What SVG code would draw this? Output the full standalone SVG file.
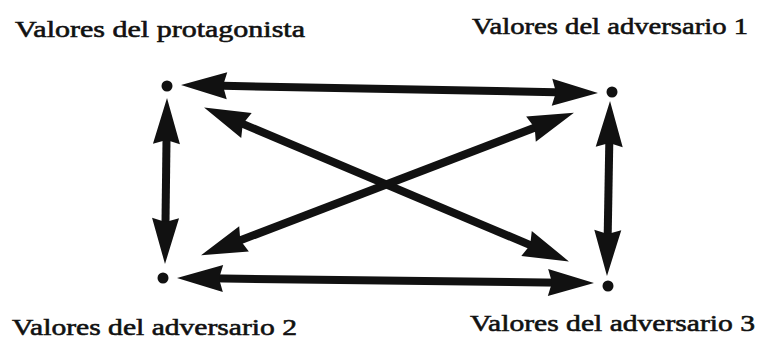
<svg xmlns="http://www.w3.org/2000/svg" width="757" height="339" viewBox="0 0 757 339">
  <style>
    .lbl { font-family: "Liberation Serif", "DejaVu Serif", serif; font-size: 24px; font-weight: normal; fill: #111; stroke: #111; stroke-width: 0.6; }
    .shaft { stroke: #111; stroke-width: 8; fill: none; marker-start: url(#head); marker-end: url(#head); }
    .dot { fill: #111; }
  </style>
  <defs>
    <marker id="head" viewBox="0 0 46 27" refX="15" refY="13.5" markerWidth="46" markerHeight="27" markerUnits="userSpaceOnUse" orient="auto-start-reverse" overflow="visible">
      <path d="M0,0 L46,13.5 L0,27 L4,13.5 Z" fill="#111"/>
    </marker>
  </defs>
  <rect width="757" height="339" fill="#ffffff"/>

  <g id="protagonista">
    <circle class="dot" cx="167" cy="86" r="5.5"/>
    <text class="lbl" x="15" y="37" textLength="290" lengthAdjust="spacingAndGlyphs">Valores del protagonista</text>
  </g>
  <g id="adversario1">
    <circle class="dot" cx="612" cy="92" r="5.5"/>
    <text class="lbl" x="472" y="34" textLength="276" lengthAdjust="spacingAndGlyphs">Valores del adversario 1</text>
  </g>
  <g id="adversario2">
    <circle class="dot" cx="163" cy="278" r="5.5"/>
    <text class="lbl" x="12" y="335" textLength="285" lengthAdjust="spacingAndGlyphs">Valores del adversario 2</text>
  </g>
  <g id="adversario3">
    <circle class="dot" cx="608" cy="286" r="5.5"/>
    <text class="lbl" x="470" y="331" textLength="285" lengthAdjust="spacingAndGlyphs">Valores del adversario 3</text>
  </g>

  <g id="connectors">
    <line class="shaft" x1="212" y1="85.58" x2="567" y2="92.42"/>
    <line class="shaft" x1="166.63" y1="129" x2="165.37" y2="233"/>
    <line class="shaft" x1="609.48" y1="132" x2="607.52" y2="245"/>
    <line class="shaft" x1="208" y1="278.36" x2="563" y2="282.64"/>
    <line class="shaft" x1="232.64" y1="119.65" x2="540.36" y2="249.35"/>
    <line class="shaft" x1="230.02" y1="244.28" x2="544.98" y2="123.72"/>
  </g>
</svg>
